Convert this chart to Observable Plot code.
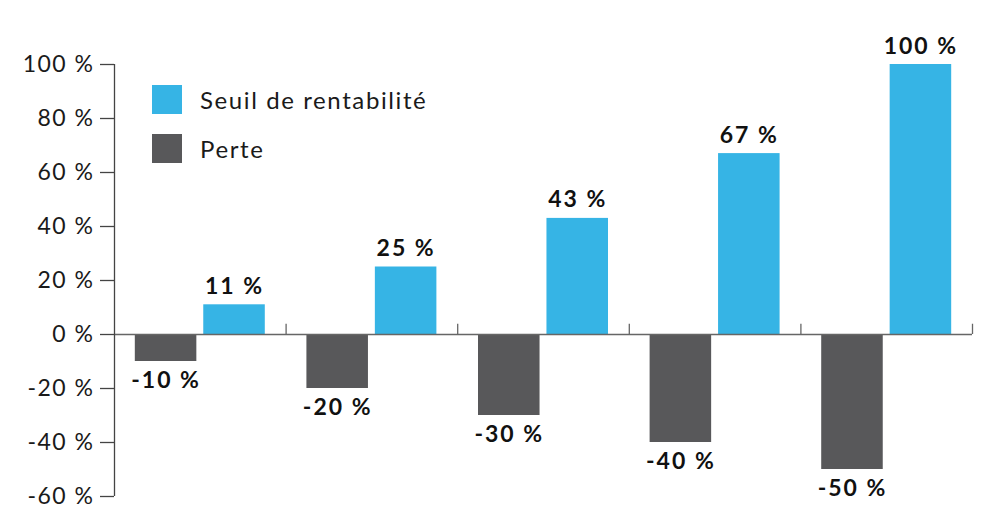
<!DOCTYPE html>
<html>
<head>
<meta charset="utf-8">
<script src="https://cdn.jsdelivr.net/npm/d3@7"></script>
<script src="https://cdn.jsdelivr.net/npm/@observablehq/plot@0.6"></script>
<style>
  html, body { margin: 0; padding: 0; background: #fff; }
  #wrap { position: relative; width: 1000px; height: 530px; font-family: Lato, "Noto Sans", sans-serif; }
  #wrap svg text { letter-spacing: 1.5px; }
  #wrap svg text.val { letter-spacing: 2px; }
  #legend { position: absolute; left: 152px; top: 84px; font-size: 24px; letter-spacing: 1.6px; color: #1a1a1a; }
  .item { display: flex; align-items: center; height: 30px; margin-bottom: 19px; }
  .sw { width: 30px; height: 29px; margin-right: 18px; }
</style>
</head>
<body>
<div id="wrap"></div>
<script>
const categories = ["Perte -10 %", "Perte -20 %", "Perte -30 %", "Perte -40 %", "Perte -50 %"];
const series = ["Perte", "Seuil de rentabilité"];
const perte = [-10, -20, -30, -40, -50];
const seuil = [11, 25, 43, 67, 100];
const yTicks = [-60, -40, -20, 0, 20, 40, 60, 80, 100];
const colors = ["#58585a", "#36b4e5"];

const rows = [];
categories.forEach((c, i) => {
  rows.push({group: i, category: c, series: series[0], value: perte[i]});
  rows.push({group: i, category: c, series: series[1], value: seuil[i]});
});

const inner = d3.scaleBand().domain(series).range([0, 1]).paddingInner(0.101).paddingOuter(0.304);
const bw = inner.bandwidth();
const x1 = d => d.group + inner(d.series);
const x2 = d => d.group + inner(d.series) + bw;
const xc = d => d.group + inner(d.series) + bw / 2;

const plot = Plot.plot({
  width: 1000,
  height: 530,
  marginLeft: 114,
  marginRight: 28,
  marginTop: 64,
  marginBottom: 34,
  style: {fontFamily: "Lato, 'Noto Sans', sans-serif", color: "#1a1a1a", background: "#fff"},
  x: {type: "linear", domain: [0, categories.length], axis: null},
  y: {domain: [-60, 100], axis: null},
  color: {domain: series, range: colors},
  marks: [
    Plot.rectY(rows, {x1, x2, y: "value", fill: "series"}),
    Plot.ruleY([0], {stroke: "#666", strokeWidth: 1.3}),
    Plot.ruleX(d3.range(1, categories.length + 1), {y1: 0, y2: 3.8, stroke: "#666", strokeWidth: 1.3}),
    Plot.ruleX([0], {stroke: "#444", strokeWidth: 1.3}),
    Plot.axisY({ticks: yTicks, tickFormat: d => d + " %", label: null, tickSize: 14, tickPadding: 6, fontSize: 23, stroke: "#444", strokeWidth: 1.3}),
    Plot.text(rows.filter(d => d.value >= 0), {x: xc, y: "value", text: d => d.value + " %", lineAnchor: "bottom", dy: -11, fontSize: 23, fontWeight: "bold", fill: "#111"}),
    Plot.text(rows.filter(d => d.value < 0), {x: xc, y: "value", text: d => d.value + " %", lineAnchor: "top", dy: 10, fontSize: 23, fontWeight: "bold", fill: "#111"})
  ]
});

const wrap = document.getElementById("wrap");
wrap.appendChild(plot);
d3.select(plot).selectAll("g[aria-label='text'] text").attr("class", "val");

const legend = document.createElement("div");
legend.id = "legend";
[[series[1], colors[1]], [series[0], colors[0]]].forEach(([name, col]) => {
  const item = document.createElement("div");
  item.className = "item";
  const sw = document.createElement("div");
  sw.className = "sw";
  sw.style.background = col;
  const lab = document.createElement("span");
  lab.textContent = name;
  item.appendChild(sw);
  item.appendChild(lab);
  legend.appendChild(item);
});
wrap.appendChild(legend);
</script>
</body>
</html>
